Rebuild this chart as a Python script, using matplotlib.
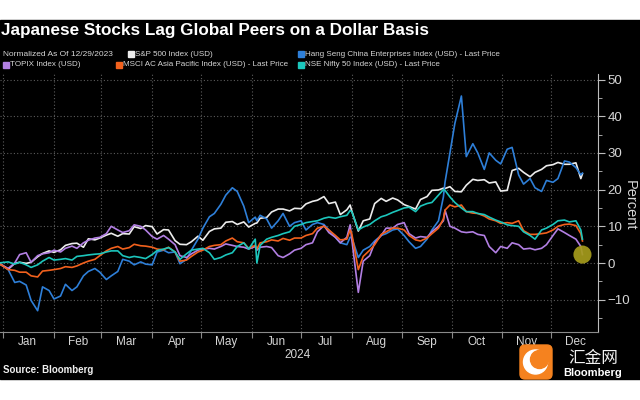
import matplotlib

matplotlib.use("Agg")
import matplotlib.dates as mdates
import matplotlib.pyplot as plt
import pandas as pd
from matplotlib.patches import Circle, FancyBboxPatch, Rectangle
from matplotlib.ticker import MultipleLocator, NullFormatter

# Sample dates (Mon/Thu plus a few key days)
dates = pd.to_datetime([
    "2023-12-29",
    "2024-01-04", "2024-01-08", "2024-01-11", "2024-01-15", "2024-01-18", "2024-01-22", "2024-01-25", "2024-01-29",
    "2024-02-01", "2024-02-05", "2024-02-08", "2024-02-12", "2024-02-15", "2024-02-19", "2024-02-22", "2024-02-26", "2024-02-29",
    "2024-03-04", "2024-03-07", "2024-03-11", "2024-03-14", "2024-03-18", "2024-03-21", "2024-03-25", "2024-03-28",
    "2024-04-01", "2024-04-04", "2024-04-08", "2024-04-11", "2024-04-15", "2024-04-18", "2024-04-22", "2024-04-25", "2024-04-29",
    "2024-05-02", "2024-05-06", "2024-05-09", "2024-05-13", "2024-05-16", "2024-05-20", "2024-05-23", "2024-05-27", "2024-05-30",
    "2024-06-03", "2024-06-04", "2024-06-06", "2024-06-10", "2024-06-13", "2024-06-17", "2024-06-20", "2024-06-24", "2024-06-27",
    "2024-07-01", "2024-07-04", "2024-07-08", "2024-07-11", "2024-07-15", "2024-07-18", "2024-07-22", "2024-07-25", "2024-07-29", "2024-07-31",
    "2024-08-01", "2024-08-05", "2024-08-08", "2024-08-12", "2024-08-15", "2024-08-19", "2024-08-22", "2024-08-26", "2024-08-29",
    "2024-09-02", "2024-09-05", "2024-09-09", "2024-09-12", "2024-09-16", "2024-09-19", "2024-09-23", "2024-09-26", "2024-09-27", "2024-09-30",
    "2024-10-03", "2024-10-07", "2024-10-10", "2024-10-14", "2024-10-17", "2024-10-21", "2024-10-24", "2024-10-28", "2024-10-31",
    "2024-11-04", "2024-11-07", "2024-11-11", "2024-11-14", "2024-11-18", "2024-11-21", "2024-11-25", "2024-11-28",
    "2024-12-02", "2024-12-05", "2024-12-09", "2024-12-12", "2024-12-16", "2024-12-19", "2024-12-20",
])

spx = [0,
       -1.7, -0.1, 0.2, -0.1, 0.2, 1.7, 2.6, 3.3,
       2.9, 3.6, 4.8, 5.3, 5.4, 4.3, 6.6, 6.3, 6.8,
       7.6, 8.1, 7.3, 8.0, 7.9, 9.9, 9.4, 10.2,
       9.9, 7.9, 9.1, 9.0, 6.1, 5.1, 5.0, 5.8, 7.3,
       6.2, 8.6, 9.3, 9.5, 11.1, 11.3, 10.5, 11.2, 9.8,
       10.8, 10.9, 12.2, 12.4, 13.9, 14.7, 14.7, 14.2, 14.9,
       14.8, 16.1, 16.8, 17.1, 18.1, 16.2, 16.6, 13.2, 14.5, 15.8,
       14.2, 8.7, 11.5, 12.0, 16.2, 17.6, 16.8, 17.7, 17.2,
       15.9, 15.4, 14.7, 17.3, 18.1, 19.8, 19.9, 20.4, 20.3, 20.8,
       19.5, 19.4, 21.2, 22.8, 22.5, 22.7, 21.8, 22.1, 19.6,
       19.8, 25.2, 25.8, 24.7, 23.5, 24.7, 25.5, 26.5,
       26.8, 27.4, 26.9, 26.9, 27.3, 23.0, 24.3]

hscei = [0,
         -1.8, -5.3, -5.0, -6.0, -10.2, -13.0, -6.5, -7.5,
         -9.8, -9.0, -5.8, -7.5, -6.5, -3.5, -2.3, -1.5, -2.5,
         -4.5, -3.5, -2.3, 1.0, 0.5, -0.5, 0.3, -0.3,
         -0.5, 3.0, 3.5, 2.8, 3.0, -0.2, 1.0, 3.5, 6.5,
         9.5, 12.6, 13.5, 16.0, 18.5, 20.5, 19.5, 15.5, 11.0,
         12.5, 11.5, 13.0, 12.0, 9.5, 11.5, 13.5, 10.0, 11.0,
         11.5, 9.0, 10.5, 11.0, 10.5, 9.0, 7.0, 5.5, 5.0, 7.0,
         7.0, 1.5, 3.5, 4.5, 6.0, 7.5, 8.0, 9.0, 9.3,
         7.5, 5.8, 4.0, 4.5, 6.5, 9.0, 11.5, 18.0, 22.0, 30.0,
         38.0, 45.5, 29.0, 32.5, 30.0, 25.5, 30.0, 28.0, 27.0,
         31.0, 31.5, 24.0, 21.5, 23.0, 20.5, 19.5, 22.5,
         22.0, 23.0, 27.8, 27.5, 26.0, 24.0, 24.5]

topix = [0,
         -1.5, 0.0, 2.3, 2.8, 0.2, 2.0, 2.5, 2.8,
         3.5, 3.0, 4.0, 4.6, 4.0, 5.5, 6.2, 6.8, 7.0,
         8.0, 10.0, 9.0, 8.3, 8.8, 10.4, 10.0, 9.0,
         7.2, 6.5, 7.5, 6.5, 5.0, 2.0, 1.5, 2.5, 3.5,
         3.8, 4.0, 3.8, 4.5, 5.2, 4.8, 4.5, 4.3, 3.8,
         4.5, 3.5, 4.3, 4.5, 4.2, 2.0, 1.5, 2.5, 3.5,
         4.0, 5.0, 5.5, 8.5, 10.2, 8.3, 7.0, 5.5, 7.0, 10.4,
         6.5, -8.0, 0.5, 2.0, 5.5, 7.5, 9.5, 9.5, 10.5,
         11.0, 8.0, 6.8, 7.2, 7.0, 8.5, 10.0, 11.5, 14.4, 10.0,
         9.5, 8.5, 8.3, 8.5, 7.8, 7.5, 4.5, 2.8, 4.5,
         4.0, 5.5, 5.0, 3.8, 4.0, 3.6, 4.0, 5.0,
         7.5, 9.3, 8.3, 7.5, 6.5, 4.5, 2.3]

apac = [0,
        -1.8, -2.0, -2.5, -2.5, -3.5, -3.8, -2.2, -2.0,
        -1.8, -1.5, -1.0, -1.2, -0.8, 0.0, 0.5, 1.0, 2.0,
        3.3, 4.0, 4.5, 3.8, 4.2, 5.1, 4.7, 4.6,
        4.3, 3.8, 3.6, 4.3, 3.0, 0.5, 0.8, 1.8, 3.0,
        3.5, 4.5, 4.8, 5.0, 6.0, 6.8, 5.8, 5.5, 4.0,
        4.8, 3.8, 5.5, 5.8, 6.3, 6.0, 6.7, 6.2, 6.8,
        6.8, 7.5, 8.0, 9.5, 10.0, 9.0, 7.5, 6.3, 6.5, 9.0,
        8.0, -1.8, 1.8, 3.5, 5.0, 7.8, 8.5, 9.5, 9.5,
        9.0, 7.5, 6.3, 6.0, 6.8, 8.0, 9.5, 12.0, 14.4, 15.8,
        15.3, 15.8, 14.0, 13.6, 13.5, 12.8, 12.0, 11.5, 10.8,
        11.0, 10.8, 11.5, 8.8, 7.8, 7.8, 8.0, 8.2,
        9.0, 10.0, 10.5, 10.6, 10.2, 8.0, 6.0]

nifty = [0,
         0.3, -0.3, 0.2, -0.5, -1.2, -0.5, 0.5, 1.5,
         0.8, 1.0, 1.2, 0.8, 1.8, 2.0, 2.2, 2.4, 2.5,
         3.0, 3.3, 3.3, 2.0, 1.5, 1.8, 1.5, 1.2,
         2.3, 3.4, 3.8, 4.2, 3.0, 1.0, 2.5, 3.5, 3.8,
         4.0, 2.8, 1.0, 1.5, 2.2, 2.8, 4.5, 5.5, 3.8,
         6.5, 0.0, 4.8, 6.5, 7.0, 7.5, 8.0, 8.5, 10.0,
         10.5, 11.0, 11.3, 11.5, 12.2, 12.5, 12.2, 12.6, 13.0, 14.3,
         14.0, 9.0, 9.8, 10.5, 11.5, 12.6, 13.0, 13.8, 14.3,
         15.0, 15.2, 14.0, 15.5, 16.2, 16.5, 18.5, 20.0, 19.8, 18.0,
         16.5, 15.0, 14.0, 14.0, 13.5, 13.2, 12.5, 11.7, 11.2,
         10.4, 10.2, 10.0, 8.5, 7.5, 6.5, 9.0, 9.5,
         10.5, 11.5, 11.7, 11.2, 11.5, 9.0, 6.5]

series_names = ["S&P 500 Index (USD)",
                "Hang Seng China Enterprises Index (USD) - Last Price",
                "TOPIX Index (USD)",
                "MSCI AC Asia Pacific Index (USD) - Last Price",
                "NSE Nifty 50 Index (USD) - Last Price"]
colors = ["#ececec", "#2e7fd8", "#b27fe3", "#f2611d", "#1cc6bc"]

NARROW = ["Liberation Sans", "DejaVu Sans"]
TXT = "#d6d6d6"


def fx(px):
    return px / 640


def fy(py):
    return 1 - py / 400


fig = plt.figure(figsize=(6.4, 4.0), dpi=100, facecolor="white")
# black chart panel between the white strips
fig.patches.append(Rectangle((0, fy(379)), 1, (379 - 20) / 400,
                             transform=fig.transFigure, color="black", zorder=-5))

ax = fig.add_axes([0, fy(332), fx(598), (332 - 74) / 400])
ax.set_facecolor("black")

for vals, col in zip([spx, hscei, topix, apac, nifty], colors):
    ax.plot(dates, vals, color=col, lw=1.2, solid_joinstyle="round")

# highlight last TOPIX point
ax.scatter(dates[-1:], topix[-1:], s=170, color="#a69c1c", alpha=0.92, zorder=6,
           edgecolors="none")

ax.set_xlim(pd.Timestamp("2023-12-30"), pd.Timestamp("2024-12-29 12:00"))
ax.set_ylim(-18.8, 51.5)

ax.xaxis.set_major_locator(mdates.MonthLocator())
ax.xaxis.set_major_formatter(NullFormatter())
ax.xaxis.set_minor_locator(mdates.MonthLocator(bymonthday=16))
ax.xaxis.set_minor_formatter(mdates.DateFormatter("%b"))
ax.tick_params(axis="x", which="major", length=4, color="#8a8a8a")
ax.tick_params(axis="x", which="minor", length=0, pad=3, labelsize=8.5,
               labelcolor=TXT)

ax.yaxis.tick_right()
ax.set_yticks(range(-10, 51, 10))
ax.yaxis.set_minor_locator(MultipleLocator(5))
ax.tick_params(axis="y", which="both", direction="out", color="#bdbdbd",
               labelsize=9.5, labelcolor=TXT, pad=2)
ax.tick_params(axis="y", which="major", length=5)
ax.tick_params(axis="y", which="minor", length=3)

ax.grid(which="major", color="#5c5c5c", linestyle=(0, (1, 2)), lw=0.8)
for side in ["left", "top"]:
    ax.spines[side].set_visible(False)
ax.spines["right"].set_color("#bdbdbd")
ax.spines["bottom"].set_color("#8a8a8a")

for lab in ax.get_xticklabels(minor=True) + ax.get_yticklabels():
    lab.set_family(NARROW)

fig.text(fx(630), fy(205), "Percent", rotation=270, color=TXT, fontsize=10.5,
         family=NARROW, ha="center", va="center")
fig.text(fx(298), fy(355), "2024", color=TXT, fontsize=8.5, family=NARROW,
         ha="center", va="center")

# title and legend
fig.text(fx(1), fy(31), "Japanese Stocks Lag Global Peers on a Dollar Basis",
         color="white", fontsize=12.3, weight="bold", family=NARROW, va="center")
fig.text(fx(3), fy(54), "Normalized As Of 12/29/2023", color=TXT, fontsize=6.0,
         family=NARROW, va="center")
legend_pos = [(128, 54), (298, 54), (3, 65), (116, 65), (298, 65)]
for (lx, ly), name, col in zip(legend_pos, series_names, colors):
    fig.patches.append(Rectangle((fx(lx), fy(ly + 3)), 5.5 / 640, 6 / 400,
                                 transform=fig.transFigure, color=col))
    fig.text(fx(lx + 7), fy(ly), name, color=TXT, fontsize=5.8, family=NARROW,
             va="center")

fig.text(fx(3), fy(370), "Source: Bloomberg", color="#f0f0f0", fontsize=7,
         weight="bold", family=NARROW, va="center")

# watermark in the corner
fig.patches.append(FancyBboxPatch((5.20, 0.21), 0.32, 0.34,
                                  boxstyle="round,pad=0,rounding_size=0.05",
                                  transform=fig.dpi_scale_trans,
                                  color="#f5821f", zorder=5))
fig.patches.append(Circle((5.355, 0.38), 0.12, transform=fig.dpi_scale_trans,
                          color="white", zorder=6))
fig.patches.append(Circle((5.395, 0.405), 0.09, transform=fig.dpi_scale_trans,
                          color="#f5821f", zorder=7))
fig.text(fx(593), fy(358), "汇金网", color="#f2f2f2", fontsize=12,
         family=["Noto Sans CJK SC", "DejaVu Sans"], ha="center", va="center")
fig.text(fx(593), fy(373), "Bloomberg", color="white", fontsize=8,
         weight="bold", family=NARROW, ha="center", va="center")

fig.savefig("out.png", dpi=100, facecolor="white")
